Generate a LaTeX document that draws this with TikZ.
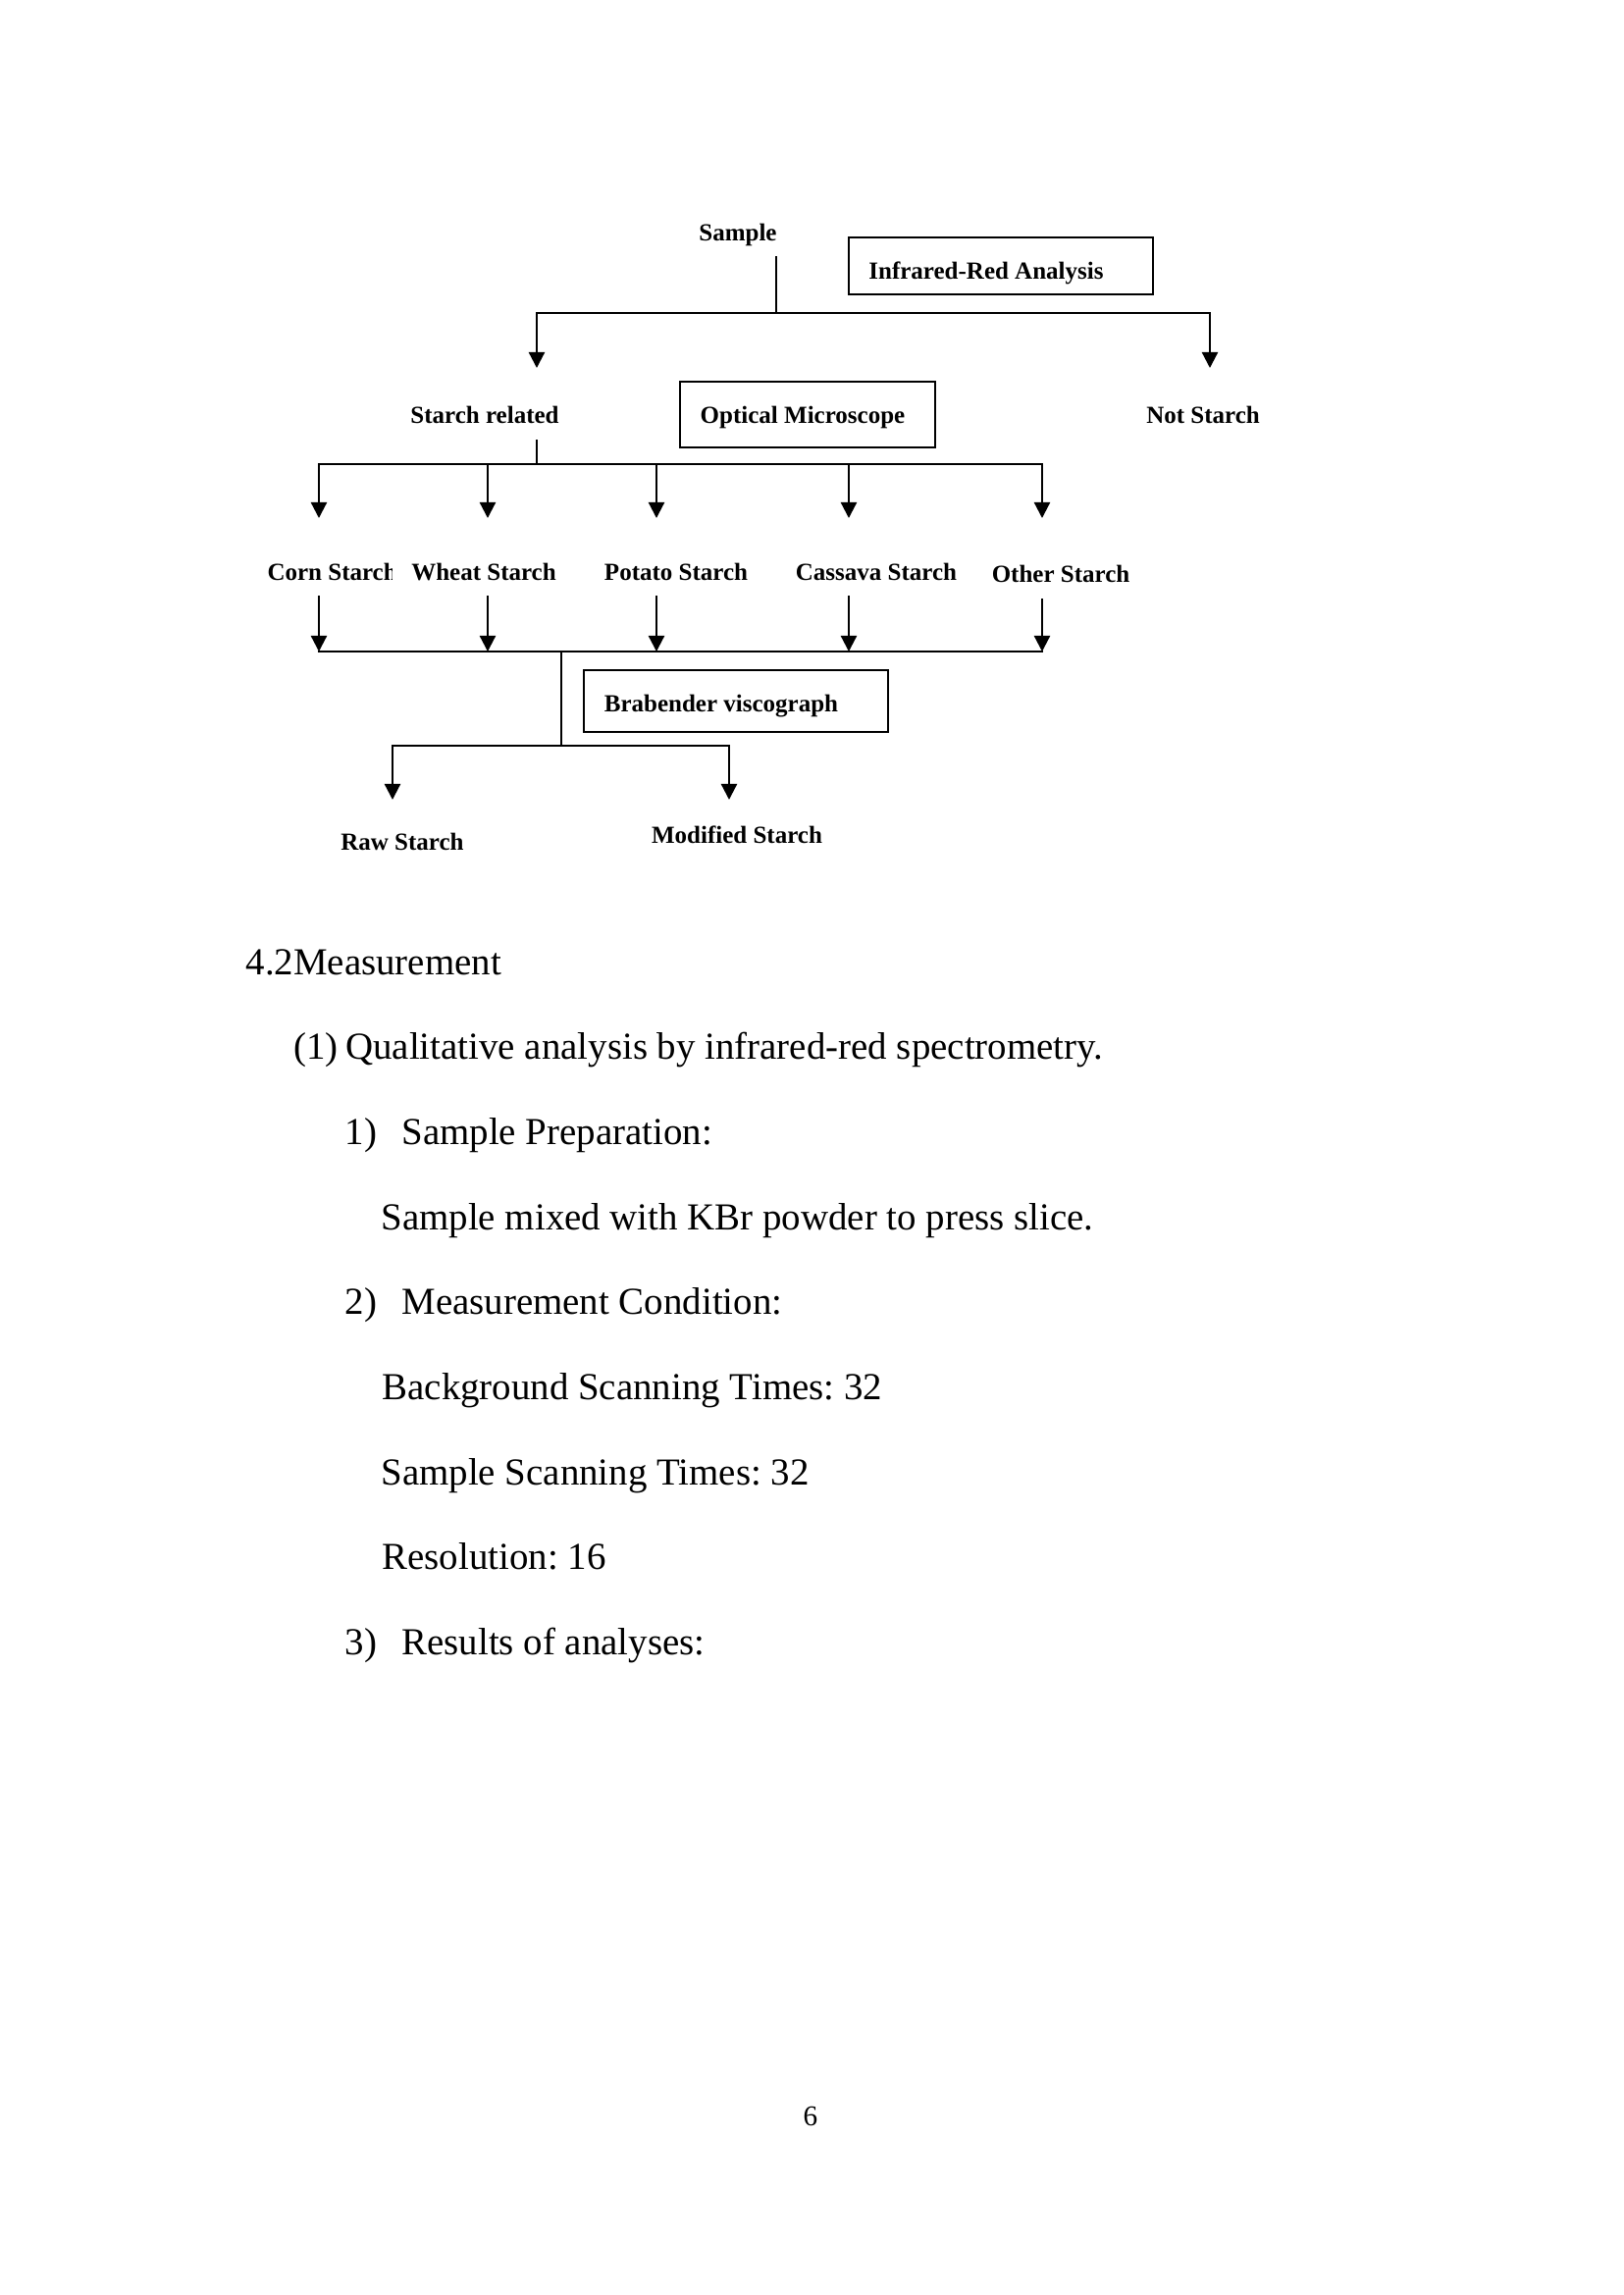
\documentclass[tikz,border=0pt]{standalone}
\usepackage{fontspec}
\setmainfont{Liberation Serif}
\usetikzlibrary{arrows.meta}
\frenchspacing
\begin{document}
\begin{tikzpicture}[x=0.36pt,y=-0.36pt,
  lab/.style={font=\fontsize{9}{11}\selectfont\bfseries, inner sep=0pt, anchor=base},
  boxn/.style={draw, line width=0.75pt, inner sep=0pt, outer sep=0pt},
  ln/.style={line width=0.8pt, line cap=rect},
  arr/.style={line width=0.8pt, -{Triangle[width=5.8pt,length=5.8pt]}},
  body/.style={font=\fontsize{14}{17}\selectfont, inner sep=0pt, anchor=base west},
  pnum/.style={font=\fontsize{10.5}{12}\selectfont, inner sep=0pt, anchor=base}]
\path[use as bounding box, fill=white] (0,0) rectangle (1654,2339);

% ---- boxes ----
\node[boxn, minimum width=111.6pt, minimum height=20.9pt] (irbox) at (1020,271) {};
\node[boxn, minimum width=93.6pt, minimum height=24.1pt] (opbox) at (823,422.5) {};
\node[boxn, minimum width=111.6pt, minimum height=22.7pt] (brbox) at (750,714.5) {};

% ---- labels ----
\node[lab] (sample) at (752,245) {Sample};
\node[lab] (irtext) at (1005,284) {Infrared-Red Analysis};
\node[lab] (starchrel) at (494,431) {Starch related};
\node[lab] (optext) at (818,431) {Optical Microscope};
\node[lab] (notstarch) at (1226,431) {Not Starch};
\begin{scope}
  \clip (262,560) rectangle (399,606);
  \node[lab, anchor=base west] (corn) at (272,591) {Corn Starch};
\end{scope}
\node[lab] (wheat) at (493,591) {Wheat Starch};
\node[lab] (potato) at (689,591) {Potato Starch};
\node[lab] (cassava) at (893,591) {Cassava Starch};
\node[lab] (other) at (1081,593) {Other Starch};
\node[lab] (brtext) at (735,725) {Brabender viscograph};
\node[lab] (raw) at (410,866) {Raw Starch};
\node[lab] (modified) at (751,859) {Modified Starch};

% ---- connectors: level 1 ----
\coordinate (s0) at (791,262);
\coordinate (s1) at (791,319);
\coordinate (sl) at (547,319);
\coordinate (sr) at (1233,319);
\coordinate (slt) at (547,375);
\coordinate (srt) at (1233,375);
\draw[ln] (s0) -- (s1);
\draw[ln] (sl) -- (sr);
\draw[arr] (sl) -- (slt);
\draw[arr] (sr) -- (srt);

% ---- level 2 ----
\coordinate (r0) at (547,449);
\coordinate (r1) at (547,473);
\coordinate (hl) at (325,473);
\coordinate (hr) at (1062,473);
\draw[ln] (r0) -- (r1);
\draw[ln] (hl) -- (hr);
\foreach \i/\xx in {1/325,2/497,3/669,4/865,5/1062}{
  \coordinate (ta\i) at (\xx,473);
  \coordinate (tb\i) at (\xx,528);
  \draw[arr] (ta\i) -- (tb\i);
}

% ---- level 3 ----
\foreach \i/\xx/\yy in {1/325/607,2/497/607,3/669/607,4/865/607,5/1062/610}{
  \coordinate (ua\i) at (\xx,\yy);
  \coordinate (ub\i) at (\xx,664);
  \draw[arr] (ua\i) -- (ub\i);
}
\coordinate (bl) at (325,664);
\coordinate (br) at (1062,664);
\draw[ln] (bl) -- (br);
\coordinate (v0) at (572,664);
\coordinate (v1) at (572,760);
\draw[ln] (v0) -- (v1);
\coordinate (ml) at (400,760);
\coordinate (mr) at (743,760);
\draw[ln] (ml) -- (mr);
\coordinate (mlt) at (400,815);
\coordinate (mrt) at (743,815);
\draw[arr] (ml) -- (mlt);
\draw[arr] (mr) -- (mrt);

% ---- body text ----
\node[body] (t1) at (250,993) {4.2Measurement};
\node[body] (t2) at (299,1079) {(1)\kern2.7pt Qualitative analysis by infrared-red spectrometry.};
\node[body] (n1) at (351,1166) {1)};
\node[body] (t3) at (409,1166) {Sample Preparation:};
\node[body] (t4) at (388,1253) {Sample mixed with KBr powder to press slice.};
\node[body] (n2) at (351,1339) {2)};
\node[body] (t5) at (409,1339) {Measurement Condition:};
\node[body] (t6) at (389,1426) {Background Scanning Times: 32};
\node[body] (t7) at (388,1513) {Sample Scanning Times: 32};
\node[body] (t8) at (389,1599) {Resolution: 16};
\node[body] (n3) at (351,1686) {3)};
\node[body] (t9) at (409,1686) {Results of analyses:};

\node[pnum] (page) at (826,2166) {6};
\end{tikzpicture}
\end{document}
